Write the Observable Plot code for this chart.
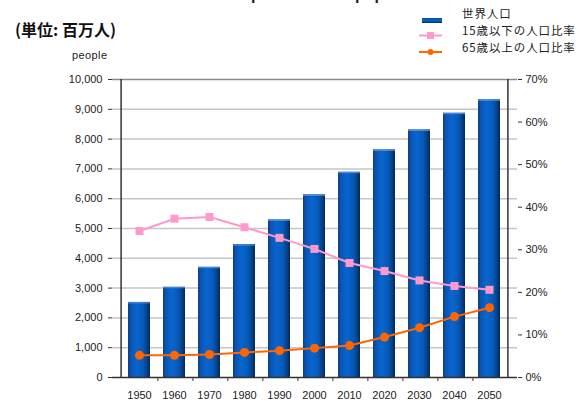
<!DOCTYPE html>
<html>
<head>
<meta charset="utf-8">
<script src="https://cdn.jsdelivr.net/npm/d3@7"></script>
<script src="https://cdn.jsdelivr.net/npm/@observablehq/plot@0.6"></script>
<style>
  html, body { margin: 0; padding: 0; background: #fff; }
  #wrap { position: relative; width: 582px; height: 402px; overflow: hidden; font-family: "Liberation Sans", Arial, sans-serif; }
  #title { position: absolute; left: 0; width: 652px; text-align: center; top: -14px; font-size: 16px; font-weight: bold; color: #222; line-height: 18px; }
  #unit { position: absolute; left: 15px; top: 19px; font-size: 16px; font-weight: bold; color: #111; font-family: "Noto Sans CJK JP", sans-serif; line-height: 20px; }
  #people { position: absolute; left: 72px; top: 49px; font-size: 11px; letter-spacing: 0.4px; color: #222; line-height: 12px; }
  .leg { position: absolute; left: 462px; font-size: 11.5px; letter-spacing: 0.9px; color: #222; font-family: "Noto Sans CJK JP", sans-serif; line-height: 14px; white-space: nowrap; }
  #chart { position: absolute; left: 0; top: 0; }
</style>
</head>
<body>
<div id="wrap">
  <div id="chart"></div>
  <div id="title"></div>
  <div id="unit"></div>
  <div id="people"></div>
  <div id="legend"></div>
</div>
<script>
// ---- data ----
const titleText = "Prospect of world population";
const unitText = "(単位: 百万人)";
const yUnitText = "people";
const years = ["1950","1960","1970","1980","1990","2000","2010","2020","2030","2040","2050"];
const population = [2520, 3030, 3700, 4460, 5290, 6130, 6890, 7640, 8310, 8870, 9320];
const under15Pct = [34.4, 37.3, 37.7, 35.3, 32.8, 30.2, 26.9, 25.0, 22.8, 21.5, 20.6];
const over65Pct  = [5.2, 5.2, 5.4, 5.9, 6.3, 6.9, 7.5, 9.5, 11.7, 14.3, 16.4];
const seriesNames = ["世界人口", "15歳以下の人口比率", "65歳以上の人口比率"];
const leftTicks = [0,1000,2000,3000,4000,5000,6000,7000,8000,9000,10000];
const rightTicks = [0,10,20,30,40,50,60,70];

const pctMax = 70, popMax = 10000;
const toY = p => p * popMax / pctMax;

const rows = years.map((y, i) => ({year: y, pop: population[i], u15: under15Pct[i], o65: over65Pct[i]}));

document.getElementById("title").textContent = titleText;
document.getElementById("unit").textContent = unitText;
document.getElementById("people").textContent = yUnitText;

const plot = Plot.plot({
  width: 582,
  height: 402,
  marginLeft: 112,
  marginRight: 65,
  marginTop: 79,
  marginBottom: 25,
  style: {fontFamily: "'Liberation Sans', Arial, sans-serif", fontSize: "11px", color: "#222", background: "transparent"},
  x: {type: "band", domain: years, padding: 0.37, align: 0.5},
  y: {domain: [0, popMax]},
  marks: [
    Plot.ruleY(leftTicks.slice(1, -1), {stroke: "#c6c6c6", strokeWidth: 1.5}),
    Plot.ruleY([popMax], {stroke: "#8a8a8a", strokeWidth: 1.5}),
    Plot.barY(rows, {x: "year", y: "pop", fill: "url(#barGrad)"}),
    Plot.tickY(rows, {x: "year", y: "pop", stroke: "#5d8fd2", strokeWidth: 1, dy: 0.5}),
    Plot.line(rows, {x: "year", y: d => toY(d.u15), stroke: "#ff99cc", strokeWidth: 2}),
    Plot.dot(rows, {x: "year", y: d => toY(d.u15), symbol: "square", r: 4.5, fill: "#ff99cc"}),
    Plot.line(rows, {x: "year", y: d => toY(d.o65), stroke: "#ff6600", strokeWidth: 2}),
    Plot.dot(rows, {x: "year", y: d => toY(d.o65), symbol: "circle", r: 4.5, fill: "#ff6600"}),
    Plot.ruleX([years[0]], {stroke: "#333", strokeWidth: 1.5, dx: -18.4}),
    Plot.ruleX([years[years.length - 1]], {stroke: "#333", strokeWidth: 1.5, dx: 18.4}),
    Plot.ruleY([0], {stroke: "#333", strokeWidth: 1.5}),
    Plot.axisY(leftTicks, {anchor: "left", tickSize: 4, tickPadding: 6, tickFormat: d3.format(","), label: null, stroke: "#333"}),
    Plot.axisY(rightTicks.map(toY), {anchor: "right", tickSize: 4, tickPadding: 4, tickFormat: d => Math.round(d * pctMax / popMax) + "%", label: null, stroke: "#333"}),
    Plot.axisX(years.slice(0, -1), {anchor: "bottom", tickSize: 4, tickFormat: () => "", dx: 18.4, label: null, stroke: "#333"}),
    Plot.axisX(years, {anchor: "bottom", tickSize: 0, tickPadding: 14, label: null})
  ]
});

// gradient for cylinder-like bars
const svg = d3.select(plot);
const defs = svg.insert("defs", ":first-child");
const grad = defs.append("linearGradient").attr("id", "barGrad").attr("x1", 0).attr("x2", 1).attr("y1", 0).attr("y2", 0);
[[0, "#143c74"], [0.12, "#0a54b4"], [0.4, "#0866cf"], [0.7, "#0658b6"], [0.88, "#063f84"], [1, "#062652"]]
  .forEach(([o, c]) => grad.append("stop").attr("offset", o).attr("stop-color", c));

document.getElementById("chart").appendChild(plot);

// legend
const legend = document.getElementById("legend");
const legRows = [
  {name: seriesNames[0], top: 6},
  {name: seriesNames[1], top: 23},
  {name: seriesNames[2], top: 40}
];
legRows.forEach(r => {
  const d = document.createElement("div");
  d.className = "leg";
  d.style.top = r.top + "px";
  d.textContent = r.name;
  legend.appendChild(d);
});
const sw = document.createElementNS("http://www.w3.org/2000/svg", "svg");
sw.setAttribute("width", 40); sw.setAttribute("height", 60);
sw.style.position = "absolute"; sw.style.left = "416px"; sw.style.top = "0px";
sw.innerHTML = `
  <defs><linearGradient id="swGrad" x1="0" x2="0" y1="0" y2="1">
    <stop offset="0" stop-color="#0a4fa8"/><stop offset="0.5" stop-color="#0963c9"/><stop offset="1" stop-color="#06306a"/>
  </linearGradient></defs>
  <rect x="6" y="18" width="20" height="5" fill="url(#swGrad)"/>
  <line x1="3" x2="26" y1="35.5" y2="35.5" stroke="#ff99cc" stroke-width="2"/>
  <rect x="11" y="32" width="7" height="7" fill="#ff99cc"/>
  <line x1="3" x2="26" y1="52" y2="52" stroke="#ff6600" stroke-width="2"/>
  <circle cx="14.5" cy="52" r="3" fill="#ff6600"/>`;
legend.appendChild(sw);
</script>
</body>
</html>
